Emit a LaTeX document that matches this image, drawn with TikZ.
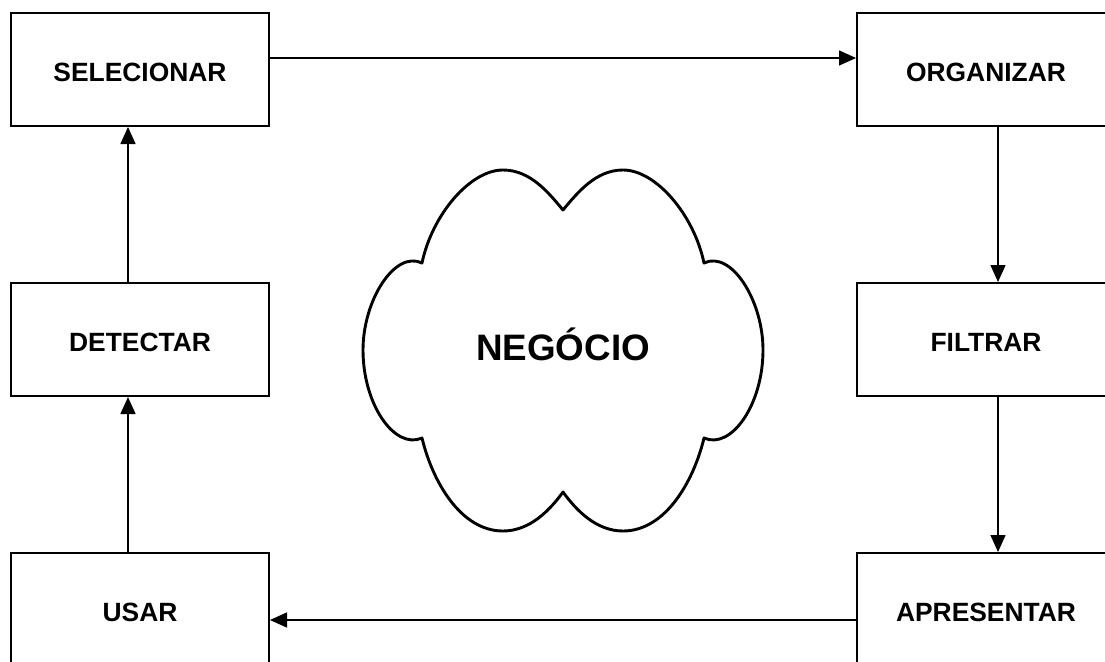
\documentclass[tikz,border=0pt]{standalone}
\usepackage{fontspec}
\setmainfont{Liberation Sans}
\usetikzlibrary{arrows.meta}
\tikzset{
  stage/.style={draw, line width=2pt, rectangle, inner sep=0pt,
    minimum width=258pt, minimum height=113pt,
    text height=24.5pt, text depth=0pt,
    font=\bfseries\fontsize{26.4}{30}\selectfont},
  flow/.style={line width=1.4pt, -{Triangle[length=17pt, width=15pt]}},
  cloudline/.style={line width=2.9pt, line join=round},
  title/.style={inner sep=0pt, font=\bfseries\fontsize{36.8}{42}\selectfont}
}
\begin{document}
\begin{tikzpicture}[x=1pt, y=-1pt]
\useasboundingbox (0,0) rectangle (1105,661);
\fill[white] (0,0) rectangle (1105,661);
\clip (0,0) rectangle (1105,661);

% process stages
\node[stage] (sel) at (140,69.5)  {SELECIONAR};
\node[stage] (org) at (986,69.5)  {ORGANIZAR};
\node[stage] (det) at (140,339.5) {DETECTAR};
\node[stage] (fil) at (986,339.5) {FILTRAR};
\node[stage] (usa) at (140,609.5) {USAR};
\node[stage] (apr) at (986,609.5) {APRESENTAR};

% cycle of arrows
\draw[flow] ([yshift=11.5pt]sel.east) -- ([yshift=11.5pt]org.west);
\draw[flow] ([xshift=12pt]org.south) -- ([xshift=12pt]fil.north);
\draw[flow] ([xshift=12pt]fil.south) -- ([xshift=12pt]apr.north);
\draw[flow] ([yshift=-10.5pt]apr.west) -- ([yshift=-10.5pt]usa.east);
\draw[flow] ([xshift=-12pt]usa.north) -- ([xshift=-12pt]det.south);
\draw[flow] ([xshift=-12pt]det.north) -- ([xshift=-12pt]sel.south);

% central cloud
\draw[cloudline] (563,210)
  .. controls (578,192) and (596,170) .. (623,170)
  .. controls (656,170) and (694,215) .. (704,263)
  .. controls (731,250) and (763,300) .. (763,350)
  .. controls (763,405) and (731,450) .. (704,438)
  .. controls (694,480) and (666,531) .. (623,531)
  .. controls (596,531) and (576,510) .. (563,492)
  .. controls (550,510) and (530,531) .. (503,531)
  .. controls (460,531) and (432,480) .. (422,438)
  .. controls (395,450) and (363,405) .. (363,350)
  .. controls (363,300) and (395,250) .. (422,263)
  .. controls (432,215) and (470,170) .. (503,170)
  .. controls (530,170) and (548,192) .. (563,210) -- cycle;
\node[title, anchor=base] (neg) at (563,360) {NEGÓCIO};
\end{tikzpicture}
\end{document}
